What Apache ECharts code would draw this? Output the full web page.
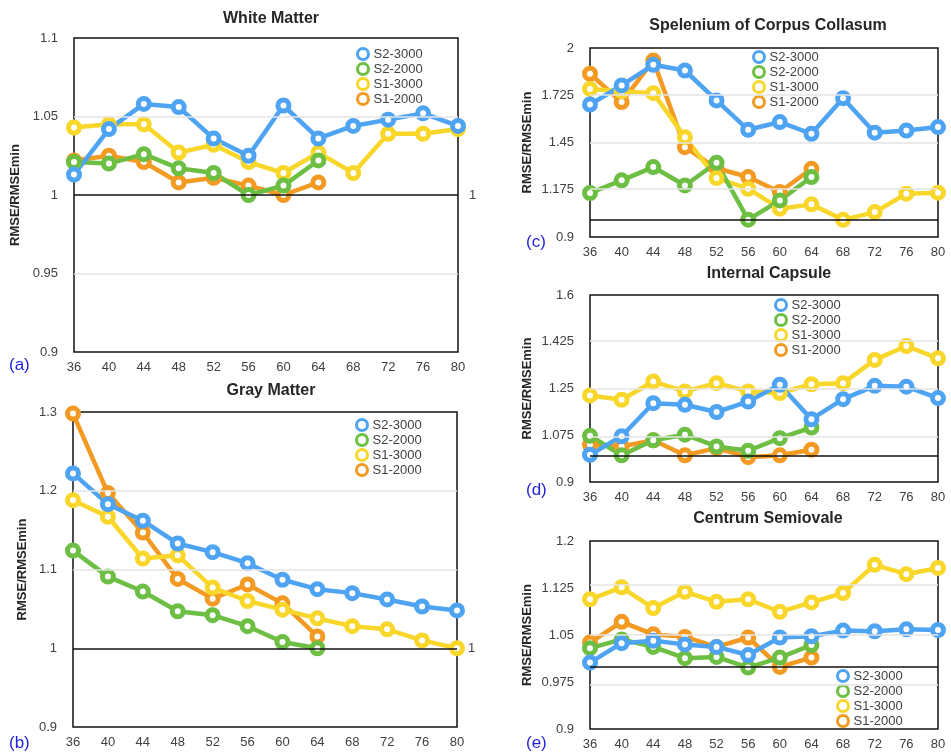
<!DOCTYPE html>
<html>
<head>
<meta charset="utf-8">
<script src="https://cdn.jsdelivr.net/npm/echarts@6/dist/echarts.min.js"></script>
<style>
html,body{margin:0;padding:0;background:#fff;}
#chart{width:951px;height:754px;}
</style>
</head>
<body>
<div id="chart"></div>
<script>
// ---- data ----
const xCats = ['36','40','44','48','52','56','60','64','68','72','76','80'];
const seriesNames = ['S2-3000','S2-2000','S1-3000','S1-2000'];

// White Matter
const wm_s2_3000 = [1.013,1.042,1.058,1.056,1.036,1.025,1.057,1.036,1.044,1.048,1.052,1.044];
const wm_s2_2000 = [1.021,1.020,1.026,1.017,1.014,1.000,1.006,1.022];
const wm_s1_3000 = [1.043,1.045,1.045,1.027,1.032,1.021,1.014,1.027,1.014,1.039,1.039,1.042];
const wm_s1_2000 = [1.022,1.025,1.021,1.008,1.011,1.006,1.000,1.008];
const wmTicks = [0.9,0.95,1,1.05,1.1];

// Gray Matter
const gm_s2_3000 = [1.222,1.183,1.162,1.133,1.122,1.108,1.087,1.075,1.070,1.062,1.053,1.048];
const gm_s2_2000 = [1.124,1.091,1.072,1.047,1.042,1.028,1.008,1.000];
const gm_s1_3000 = [1.188,1.167,1.114,1.118,1.077,1.060,1.049,1.038,1.028,1.024,1.010,1.000];
const gm_s1_2000 = [1.298,1.197,1.147,1.088,1.063,1.081,1.057,1.015];
const gmTicks = [0.9,1,1.1,1.2,1.3];

// Spelenium of Corpus Collasum
const sc_s2_3000 = [1.671,1.782,1.902,1.869,1.695,1.524,1.569,1.501,1.708,1.507,1.520,1.540];
const sc_s2_2000 = [1.156,1.230,1.307,1.200,1.332,1.001,1.113,1.249];
const sc_s1_3000 = [1.762,1.749,1.737,1.481,1.243,1.181,1.065,1.090,1.000,1.045,1.152,1.158];
const sc_s1_2000 = [1.850,1.685,1.927,1.423,1.300,1.249,1.162,1.297];
const scTicks = [0.9,1.175,1.45,1.725,2];

// Internal Capsule
const ic_s2_3000 = [1.002,1.071,1.195,1.189,1.162,1.201,1.264,1.135,1.210,1.260,1.257,1.214];
const ic_s2_2000 = [1.073,1.000,1.056,1.077,1.033,1.017,1.064,1.104];
const ic_s1_3000 = [1.224,1.208,1.276,1.239,1.270,1.239,1.233,1.266,1.270,1.357,1.409,1.363];
const ic_s1_2000 = [1.040,1.033,1.056,1.000,1.027,0.993,1.000,1.021];
const icTicks = [0.9,1.075,1.25,1.425,1.6];

// Centrum Semiovale
const cs_s2_3000 = [1.006,1.037,1.041,1.035,1.031,1.018,1.046,1.048,1.057,1.056,1.059,1.058];
const cs_s2_2000 = [1.029,1.043,1.031,1.013,1.015,0.998,1.014,1.034];
const cs_s1_3000 = [1.107,1.126,1.093,1.119,1.103,1.107,1.087,1.102,1.117,1.162,1.147,1.157];
const cs_s1_2000 = [1.038,1.071,1.051,1.047,1.031,1.046,0.999,1.014];
const csTicks = [0.9,0.975,1.05,1.125,1.2];

const titles = ['White Matter','Gray Matter','Spelenium of Corpus Collasum','Internal Capsule','Centrum Semiovale'];
const letters = ['(a)','(b)','(c)','(d)','(e)'];

// ---- styling / layout ----
const FONT = 'Liberation Sans, Arial, sans-serif';
const colors = {'S2-3000':'#4ea4f2','S2-2000':'#6cbf42','S1-3000':'#f9d62a','S1-2000':'#f29a22'};

const panels = [
  {data:{'S2-3000':wm_s2_3000,'S2-2000':wm_s2_2000,'S1-3000':wm_s1_3000,'S1-2000':wm_s1_2000}, ticks:wmTicks,
   grid:{left:74,top:38,width:384,height:314}, nameGap:52, oneLabel:true,
   title:{x:266,top:6}, letter:{x:9,y:365}, legend:{left:356,top:47}},
  {data:{'S2-3000':gm_s2_3000,'S2-2000':gm_s2_2000,'S1-3000':gm_s1_3000,'S1-2000':gm_s1_2000}, ticks:gmTicks,
   grid:{left:73,top:412,width:384,height:315}, nameGap:44, oneLabel:true,
   title:{x:266,top:378}, letter:{x:9,y:743}, legend:{left:355,top:418}},
  {data:{'S2-3000':sc_s2_3000,'S2-2000':sc_s2_2000,'S1-3000':sc_s1_3000,'S1-2000':sc_s1_2000}, ticks:scTicks,
   grid:{left:590,top:48,width:348,height:189}, nameGap:56, oneLabel:false,
   title:{x:763,top:13}, letter:{x:526,y:242}, legend:{left:752,top:50}},
  {data:{'S2-3000':ic_s2_3000,'S2-2000':ic_s2_2000,'S1-3000':ic_s1_3000,'S1-2000':ic_s1_2000}, ticks:icTicks,
   grid:{left:590,top:295,width:348,height:187}, nameGap:56, oneLabel:false,
   title:{x:764,top:261}, letter:{x:526,y:490}, legend:{left:774,top:298}},
  {data:{'S2-3000':cs_s2_3000,'S2-2000':cs_s2_2000,'S1-3000':cs_s1_3000,'S1-2000':cs_s1_2000}, ticks:csTicks,
   grid:{left:590,top:541,width:348,height:188}, nameGap:56, oneLabel:false,
   title:{x:763,top:506}, letter:{x:526,y:743}, legend:{left:836,top:669}}
];

const option = {
  animation:false,
  backgroundColor:'#fff',
  textStyle:{fontFamily:FONT},
  title:[], grid:[], xAxis:[], yAxis:[], legend:[], series:[], graphic:[]
};

// draw order: bottom -> top
const drawOrder = ['S1-2000','S1-3000','S2-2000','S2-3000'];

panels.forEach((p,i)=>{
  option.title.push({text:titles[i], left:p.title.x, top:p.title.top, textAlign:'center',
    textStyle:{fontFamily:FONT,fontSize:16,fontWeight:'bold',color:'#262626'}});
  option.grid.push(Object.assign({show:true,borderColor:'#111',borderWidth:1.5,backgroundColor:'#fff'}, p.grid));
  option.xAxis.push({type:'category', gridIndex:i, data:xCats, boundaryGap:false,
    axisLine:{show:false}, axisTick:{show:false}, splitLine:{show:false},
    axisLabel:{color:'#404040', fontSize:13, fontFamily:FONT, margin:9, interval:0}});
  const t = p.ticks;
  option.yAxis.push({type:'value', gridIndex:i, min:t[0], max:t[t.length-1],
    name:'RMSE/RMSEmin', nameLocation:'middle', nameGap:p.nameGap,
    nameTextStyle:{fontFamily:FONT,fontSize:13,fontWeight:'bold',color:'#262626'},
    axisLine:{show:false}, axisTick:{show:false}, splitLine:{show:false},
    axisLabel:{color:'#404040', fontSize:13, fontFamily:FONT, margin:16, customValues:t}});
  option.legend.push({orient:'vertical', left:p.legend.left, top:p.legend.top, icon:'circle',
    itemWidth:11, itemHeight:11, itemGap:1, selectedMode:false, padding:0,
    textStyle:{fontFamily:FONT,fontSize:13,color:'#404040',lineHeight:14},
    data:seriesNames.map(n=>({name:n, itemStyle:{color:'#fff', borderColor:colors[n], borderWidth:3}}))});
  option.graphic.push({type:'text', x:p.letter.x, y:p.letter.y, silent:true,
    style:{text:letters[i], fill:'#1f1fd8', font:'17px '+FONT, textVerticalAlign:'middle', verticalAlign:'middle'}});

  drawOrder.forEach((n,k)=>{
    const s = {type:'line', name:n, xAxisIndex:i, yAxisIndex:i, data:p.data[n],
      symbol:'circle', symbolSize:11, showSymbol:true,
      lineStyle:{color:colors[n], width:4.5},
      itemStyle:{color:'#fff', borderColor:colors[n], borderWidth:5},
      emphasis:{disabled:true}, silent:true};
    if(k===0){
      const ml = [];
      t.slice(1,-1).forEach(v=>{
        if(v!==1) ml.push({yAxis:v, lineStyle:{color:'#e4e4e4', width:1.5, type:'solid'}, label:{show:false}});
      });
      ml.push({yAxis:1, lineStyle:{color:'#111', width:1.5, type:'solid'},
        label:{show:p.oneLabel, position:'end', formatter:'1', color:'#404040', fontSize:13, fontFamily:FONT, distance:11}});
      s.markLine = {silent:true, symbol:['none','none'], animation:false, data:ml};
    }
    option.series.push(s);
  });
});

const chart = echarts.init(document.getElementById('chart'), null, {renderer:'canvas'});
chart.setOption(option);
</script>
</body>
</html>
